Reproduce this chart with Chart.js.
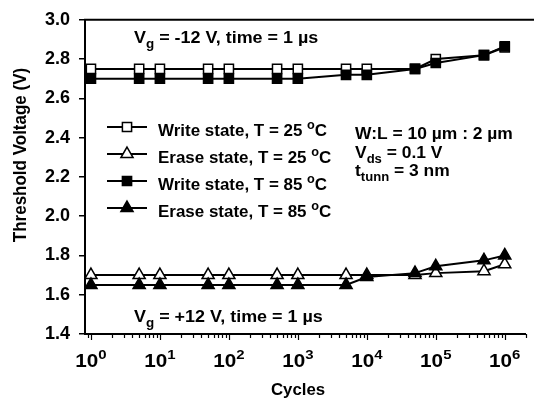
<!DOCTYPE html>
<html>
<head>
<meta charset="utf-8">
<script src="https://cdn.jsdelivr.net/npm/chart.js@4.4.1/dist/chart.umd.min.js"></script>
<style>
  html, body { margin: 0; padding: 0; background: #fff; }
  #wrap { width: 534px; height: 401px; position: relative; }
</style>
</head>
<body>
<div id="wrap"><canvas id="grafico"></canvas></div>
<script>
// dados
const ciclos = [1, 5, 10, 50, 100, 500, 1000, 5000, 10000, 50000, 100000, 500000, 1000000];
const escrita25 = [2.75, 2.75, 2.75, 2.75, 2.75, 2.75, 2.75, 2.75, 2.75, 2.75, 2.80, 2.82, 2.86];
const apagar25 = [1.70, 1.70, 1.70, 1.70, 1.70, 1.70, 1.70, 1.70, 1.70, 1.70, 1.71, 1.72, 1.755];
const escrita85 = [2.70, 2.70, 2.70, 2.70, 2.70, 2.70, 2.70, 2.72, 2.72, 2.75, 2.78, 2.82, 2.865];
const apagar85 = [1.65, 1.65, 1.65, 1.65, 1.65, 1.65, 1.65, 1.65, 1.69, 1.71, 1.745, 1.775, 1.80];

const nomesSeries = ['Write state, T = 25 ', 'Erase state, T = 25 ', 'Write state, T = 85 ', 'Erase state, T = 85 '];
const expoentesX = [0, 1, 2, 3, 4, 5, 6];
const limitesY = [1.4, 3.0];
const limitesX = [0.82, 2.0e6];

const FONTE = '"Liberation Sans", Arial, sans-serif';

function pontos(valores) {
    return ciclos.map((c, i) => ({ x: c, y: valores[i] }));
}

function serie(nome, valores, estilo, cheio, ordem) {
    return {
        label: nome,
        data: pontos(valores),
        borderColor: '#000',
        borderWidth: 2,
        pointStyle: estilo,
        pointRadius: estilo === 'rect' ? 6.5 : 7,
        pointBorderWidth: 1.5,
        pointBorderColor: '#000',
        pointBackgroundColor: cheio ? '#000' : '#fff',
        tension: 0,
        fill: false,
        order: ordem
    };
}

function marcador(ctx, estilo, cheio, x, y) {
    ctx.save();
    ctx.lineWidth = 1.5;
    ctx.strokeStyle = '#000';
    ctx.fillStyle = cheio ? '#000' : '#fff';
    ctx.beginPath();
    if (estilo === 'rect') {
        const s = 6.5 * Math.SQRT1_2;
        ctx.rect(x - s, y - s, 2 * s, 2 * s);
    } else {
        const r = 7;
        ctx.moveTo(x, y - r);
        ctx.lineTo(x + r * Math.cos(Math.PI / 6), y + r / 2);
        ctx.lineTo(x - r * Math.cos(Math.PI / 6), y + r / 2);
        ctx.closePath();
    }
    ctx.fill();
    ctx.stroke();
    ctx.restore();
}

// texto com partes em subscrito / sobrescrito, com esticamento horizontal
function textoMisto(ctx, partes, x, y, tam, esc, medir) {
    esc = esc || 1;
    ctx.save();
    ctx.translate(x, y);
    ctx.scale(esc, 1);
    ctx.textAlign = 'left';
    ctx.textBaseline = 'alphabetic';
    let cx = 0;
    partes.forEach(p => {
        const t = p.sub || p.sup ? Math.round(tam * 0.72) : tam;
        ctx.font = `bold ${t}px ${FONTE}`;
        let dy = 0;
        if (p.sub) dy = tam * 0.32;
        if (p.sup) dy = -tam * 0.42;
        if (!medir) ctx.fillText(p.t, cx, dy);
        cx += ctx.measureText(p.t).width;
    });
    ctx.restore();
    return cx * esc;
}

const extras = {
    id: 'extras',
    afterDraw(chart) {
        const ctx = chart.ctx;
        const area = chart.chartArea;
        const sx = chart.scales.x;
        ctx.save();
        ctx.fillStyle = '#000';
        ctx.strokeStyle = '#000';

        // linha de cima
        ctx.lineWidth = 2;
        ctx.beginPath();
        ctx.moveTo(area.left - 1, area.top);
        ctx.lineTo(chart.width, area.top);
        ctx.stroke();

        // marcas do eixo x
        ctx.lineWidth = 1.2;
        for (let k = -1; k <= 6; k++) {
            for (let d = 1; d <= 9; d++) {
                const v = d * Math.pow(10, k);
                if (v < limitesX[0] || v > limitesX[1]) continue;
                const px = Math.round(sx.getPixelForValue(v)) + 0.5;
                const len = d === 1 ? 6 : 4;
                ctx.beginPath();
                ctx.moveTo(px, area.bottom);
                ctx.lineTo(px, area.bottom + len);
                ctx.stroke();
            }
        }

        // rótulos do eixo x: 10^n
        expoentesX.forEach(n => {
            const px = sx.getPixelForValue(Math.pow(10, n));
            const partes = [{ t: '10' }, { t: String(n), sup: true }];
            const w = textoMisto(ctx, partes, 0, 0, 18, 1.15, true);
            textoMisto(ctx, partes, px - w / 2, 367, 18, 1.15);
        });

        // títulos dos eixos
        ctx.save();
        ctx.translate(298, 395);
        ctx.scale(1.05, 1);
        ctx.font = `bold 16px ${FONTE}`;
        ctx.textAlign = 'center';
        ctx.textBaseline = 'alphabetic';
        ctx.fillText('Cycles', 0, 0);
        ctx.restore();

        ctx.save();
        ctx.translate(21, 155);
        ctx.rotate(-Math.PI / 2);
        ctx.scale(1, 1.12);
        ctx.font = `bold 17px ${FONTE}`;
        ctx.textAlign = 'center';
        ctx.textBaseline = 'middle';
        ctx.fillText('Threshold Voltage (V)', 0, 0);
        ctx.restore();

        // legenda
        const estilos = [['rect', false], ['triangle', false], ['rect', true], ['triangle', true]];
        const linhasY = [127, 154, 181, 208];
        linhasY.forEach((ly, i) => {
            ctx.lineWidth = 2;
            ctx.beginPath();
            ctx.moveTo(107, ly);
            ctx.lineTo(147, ly);
            ctx.stroke();
            marcador(ctx, estilos[i][0], estilos[i][1], 127, ly);
            ctx.fillStyle = '#000';
            textoMisto(ctx, [{ t: nomesSeries[i] }, { t: 'o', sup: true }, { t: 'C' }], 158, ly + 9, 16, 1.06);
        });

        // anotações
        textoMisto(ctx, [{ t: 'V' }, { t: 'g', sub: true }, { t: ' = -12 V, time = 1 \u00b5s' }], 134, 43, 16, 1.12);
        textoMisto(ctx, [{ t: 'V' }, { t: 'g', sub: true }, { t: ' = +12 V, time = 1 \u00b5s' }], 134, 322, 16, 1.12);
        textoMisto(ctx, [{ t: 'W:L = 10 \u00b5m : 2 \u00b5m' }], 355, 139, 16, 1.09);
        textoMisto(ctx, [{ t: 'V' }, { t: 'ds', sub: true }, { t: ' = 0.1 V' }], 355, 158, 16, 1.09);
        textoMisto(ctx, [{ t: 't' }, { t: 'tunn', sub: true }, { t: ' = 3 nm' }], 355, 176, 16, 1.09);

        ctx.restore();
    }
};

new Chart(document.getElementById('grafico'), {
    type: 'line',
    data: {
        datasets: [
            serie(nomesSeries[0], escrita25, 'rect', false, 2),
            serie(nomesSeries[1], apagar25, 'triangle', false, 3),
            serie(nomesSeries[2], escrita85, 'rect', true, 0),
            serie(nomesSeries[3], apagar85, 'triangle', true, 1)
        ]
    },
    options: {
        responsive: true,
        maintainAspectRatio: false,
        animation: false,
        devicePixelRatio: 1,
        layout: { padding: { top: 19, right: 0, left: 0, bottom: 0 } },
        plugins: { legend: { display: false }, tooltip: { enabled: false } },
        scales: {
            x: {
                type: 'logarithmic',
                min: limitesX[0],
                max: limitesX[1],
                ticks: { display: false },
                grid: { display: false },
                border: { display: true, color: '#000', width: 2 },
                afterFit(scale) { scale.height = 401 - 334; }
            },
            y: {
                min: limitesY[0],
                max: limitesY[1],
                ticks: {
                    stepSize: 0.2,
                    color: '#000',
                    padding: 9,
                    font: { family: FONTE, size: 18, weight: 'bold' },
                    callback: v => Number(v).toFixed(1)
                },
                grid: { drawOnChartArea: false, drawTicks: true, tickLength: 6, color: '#000', lineWidth: 1.5 },
                border: { display: true, color: '#000', width: 2 },
                afterFit(scale) { scale.width = 85; }
            }
        }
    },
    plugins: [extras]
});
</script>
</body>
</html>
